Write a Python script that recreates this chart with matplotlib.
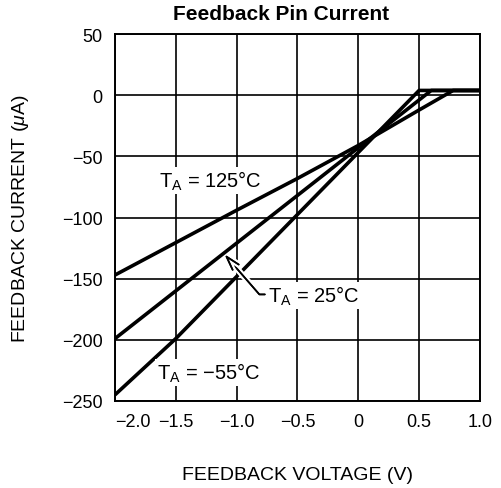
import matplotlib
matplotlib.use("Agg")
import matplotlib.pyplot as plt
import matplotlib.patheffects as pe

plt.rcParams['font.family'] = ['Liberation Sans', 'DejaVu Sans']
plt.rcParams['mathtext.fontset'] = 'custom'
plt.rcParams['mathtext.rm'] = 'Liberation Sans'
plt.rcParams['mathtext.it'] = 'Liberation Sans:italic'

# feedback voltage (V) vs feedback current (uA)
volt_125 = [-2.0, -1.5, -1.0, -0.5, 0.0, 0.5, 0.78, 1.0]
curr_125 = [-147, -120.5, -94, -68, -41, -12, 4, 4]
volt_25 = [-2.0, 0.6, 1.0]
curr_25 = [-199, 4, 4]
volt_m55 = [-2.0, -1.5, 0.5, 1.0]
curr_m55 = [-245, -199, 4, 4]

xticks = [-2.0, -1.5, -1.0, -0.5, 0.0, 0.5, 1.0]
xtick_labels = ['\u22122.0', '\u22121.5', '\u22121.0', '\u22120.5', '0', '0.5', '1.0']
yticks = [50, 0, -50, -100, -150, -200, -250]
ytick_labels = ['50', '0', '\u221250', '\u2212100', '\u2212150', '\u2212200', '\u2212250']

fig = plt.figure(figsize=(5.02, 4.89), dpi=100)
ax = fig.add_axes([0.229, 0.178, 0.727, 0.750])

lw = 2.6
ax.plot(volt_125, curr_125, color='black', lw=lw, zorder=2, solid_capstyle='butt')
ax.plot(volt_m55, curr_m55, color='black', lw=lw, zorder=2, solid_capstyle='butt')
ax.plot(volt_25, curr_25, color='black', lw=lw, zorder=4, solid_capstyle='butt')

ax.set_xlim(-2.0, 1.0)
ax.set_ylim(-250, 50)
ax.set_xticks(xticks)
ax.set_xticklabels(xtick_labels)
ax.set_yticks(yticks)
ax.set_yticklabels(ytick_labels)
ax.tick_params(length=0, labelsize=13, pad=9)
ax.get_xticklabels()[0].set_ha('left')

ax.grid(True, color='black', lw=1.2)
ax.set_axisbelow(True)
for s in ax.spines.values():
    s.set_linewidth(1.4)

ax.set_xlabel('FEEDBACK VOLTAGE (V)', fontsize=14)
ax.xaxis.set_label_coords(0.5, -0.176)
ax.set_ylabel('FEEDBACK CURRENT ($\\mu$A)', fontsize=14)
ax.yaxis.set_label_coords(-0.23, 0.5)

fig.text(0.56, 0.971, 'Feedback Pin Current', ha='center', va='center',
         fontsize=15, fontweight='bold')

box = dict(facecolor='white', edgecolor='none', pad=1.5)
ax.text(-1.64, -75, 'T$_\\mathregular{A}$ = 125°C', fontsize=14.5,
        ha='left', va='baseline', bbox=box, zorder=3)
ax.text(-1.655, -232, 'T$_\\mathregular{A}$ = \u221255°C', fontsize=14.5,
        ha='left', va='baseline', bbox=box, zorder=3)
ax.annotate('T$_\\mathregular{A}$ = 25°C', xy=(-1.1, -130), xytext=(-0.74, -169),
            fontsize=14.5, ha='left', va='baseline', bbox=box, zorder=3,
            arrowprops=dict(arrowstyle='->,head_length=0.7,head_width=0.2',
                            color='black', lw=1.2, shrinkA=1, shrinkB=0,
                            relpos=(0, 0.55),
                            connectionstyle='angle,angleA=180,angleB=-49,rad=0',
                            path_effects=[pe.withStroke(linewidth=4.5, foreground='white'),
                                          pe.Normal()]))

fig.savefig('out.png', dpi=100)
